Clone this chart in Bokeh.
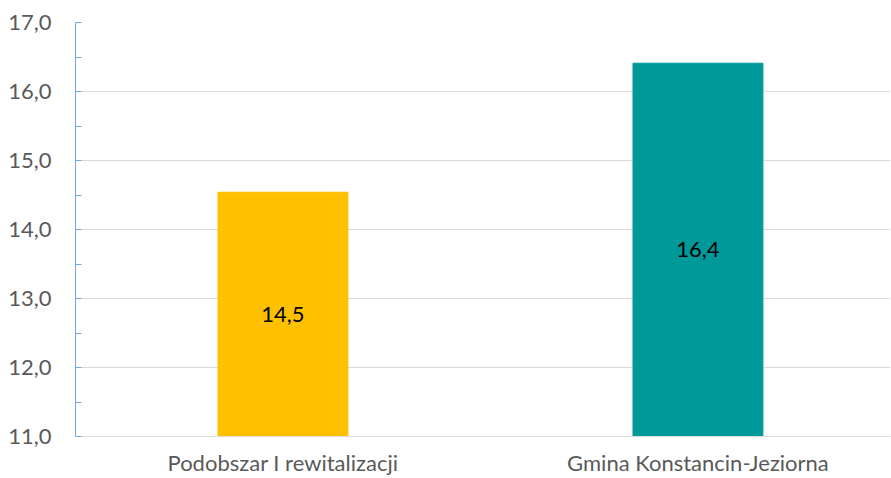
from bokeh.plotting import figure
from bokeh.models import Range1d, FixedTicker, ColumnDataSource
from bokeh.core.properties import value
from bokeh.embed import file_html
from bokeh.resources import INLINE

categories = ["Podobszar I rewitalizacji", "Gmina Konstancin-Jeziorna"]
values = [14.54, 16.41]
colors = ["#FFC000", "#009999"]
y_ticks = [11, 12, 13, 14, 15, 16, 17]
y_minor = [11.5, 12.5, 13.5, 14.5, 15.5, 16.5]
base = 11

FONT = "Lato"
FS = "22px"
x = [i + 0.5 for i in range(len(categories))]
src = ColumnDataSource(dict(
    x=x, top=values, color=colors,
    mid=[(base + v) / 2 for v in values],
    lab=[("%.1f" % v).replace(".", ",") for v in values],
))

p = figure(width=891, height=478, output_backend="svg", toolbar_location=None,
           x_range=Range1d(0, 1.964), y_range=Range1d(11, 17),
           min_border_left=75, min_border_right=1, min_border_top=22, min_border_bottom=42)
p.outline_line_color = None
p.background_fill_color = "white"
p.border_fill_color = "white"

p.vbar(x="x", top="top", bottom=base, width=0.313, color="color", source=src)
p.text(x="x", y="mid", text="lab", source=src, text_align="center", text_baseline="middle",
       text_font=value(FONT), text_font_size=FS, text_color="#000000")

# y axis
p.yaxis.ticker = FixedTicker(ticks=y_ticks, minor_ticks=y_minor)
p.yaxis.major_label_overrides = {t: ("%.1f" % t).replace(".", ",") for t in y_ticks}
p.yaxis.axis_line_color = "#6FA8DC"
p.yaxis.major_tick_line_color = "#6FA8DC"
p.yaxis.minor_tick_line_color = "#6FA8DC"
p.yaxis.major_tick_in = 6
p.yaxis.major_tick_out = 0
p.yaxis.minor_tick_in = 6
p.yaxis.minor_tick_out = 0
p.yaxis.major_label_standoff = 24
p.yaxis.major_label_text_font = FONT
p.yaxis.major_label_text_font_size = FS
p.yaxis.major_label_text_color = "#595959"

# x axis
p.xaxis.ticker = FixedTicker(ticks=x)
p.xaxis.major_label_overrides = {xi: c for xi, c in zip(x, categories)}
p.xaxis.axis_line_color = "#D9D9D9"
p.xaxis.major_tick_line_color = None
p.xaxis.minor_tick_line_color = None
p.xaxis.major_tick_in = 0
p.xaxis.major_tick_out = 0
p.xaxis.major_label_standoff = 12
p.xaxis.major_label_text_font = FONT
p.xaxis.major_label_text_font_size = FS
p.xaxis.major_label_text_color = "#595959"

p.xgrid.grid_line_color = None
p.ygrid.ticker = FixedTicker(ticks=y_ticks)
p.ygrid.grid_line_color = "#D9D9D9"
p.ygrid.grid_line_width = 1

open("out.html", "w").write(file_html(p, INLINE))
